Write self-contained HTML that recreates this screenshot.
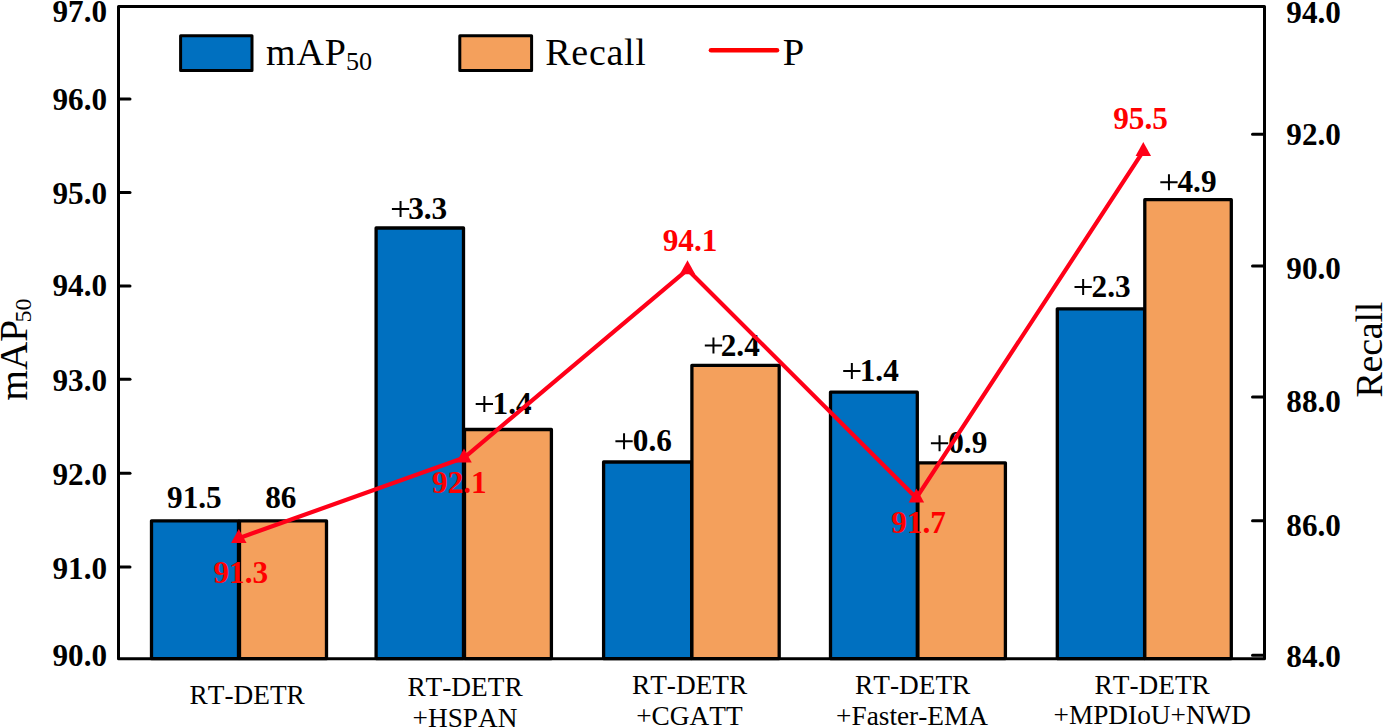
<!DOCTYPE html>
<html><head><meta charset="utf-8"><title>chart</title>
<style>html,body{margin:0;padding:0;background:#fff;}body{width:1383px;height:728px;overflow:hidden;}svg{display:block;}text{font-family:"Liberation Serif",serif;font-kerning:none;}.b{font-weight:bold;}.x{font-size:27.3px;}.p{font-weight:normal;}</style></head><body>
<svg width="1383" height="728" viewBox="0 0 1383 728">
<rect x="0" y="0" width="1383" height="728" fill="#fff"/>
<g stroke="#000" stroke-width="3.3" stroke-linejoin="round">
<rect x="151.5" y="520.8" width="87.0" height="137.9" fill="#0070C0"/>
<rect x="239.5" y="520.8" width="87.0" height="137.9" fill="#F4A05C"/>
<rect x="376.1" y="228.0" width="87.4" height="430.6" fill="#0070C0"/>
<rect x="464.5" y="429.5" width="86.9" height="229.1" fill="#F4A05C"/>
<rect x="603.6" y="462.0" width="88.1" height="196.6" fill="#0070C0"/>
<rect x="691.9" y="365.3" width="87.3" height="293.3" fill="#F4A05C"/>
<rect x="830.5" y="392.2" width="86.8" height="266.4" fill="#0070C0"/>
<rect x="917.9" y="462.8" width="87.5" height="195.8" fill="#F4A05C"/>
<rect x="1057.3" y="308.8" width="87.3" height="349.8" fill="#0070C0"/>
<rect x="1144.8" y="199.7" width="86.5" height="458.9" fill="#F4A05C"/>
</g>
<rect x="118.5" y="6.5" width="1146.0" height="652.15" fill="none" stroke="#000" stroke-width="3" stroke-linejoin="round"/>
<g stroke="#000" stroke-width="3" stroke-linecap="round">
<line x1="118.5" y1="98.9" x2="130" y2="98.9"/>
<line x1="118.5" y1="192.5" x2="130" y2="192.5"/>
<line x1="118.5" y1="285.9" x2="130" y2="285.9"/>
<line x1="118.5" y1="379.3" x2="130" y2="379.3"/>
<line x1="118.5" y1="473.3" x2="130" y2="473.3"/>
<line x1="118.5" y1="566.9" x2="130" y2="566.9"/>
<line x1="1252.5" y1="134.3" x2="1264.5" y2="134.3"/>
<line x1="1252.5" y1="265.9" x2="1264.5" y2="265.9"/>
<line x1="1252.5" y1="397.1" x2="1264.5" y2="397.1"/>
<line x1="1252.5" y1="520.7" x2="1264.5" y2="520.7"/>
<line x1="1252.5" y1="655.3" x2="1264.5" y2="655.3"/>
</g>
<text class="b" transform="translate(107,22) scale(1.012,1)" font-size="30.8" text-anchor="end">97.0</text>
<text class="b" transform="translate(107,110) scale(1.012,1)" font-size="30.8" text-anchor="end">96.0</text>
<text class="b" transform="translate(107,204.3) scale(1.012,1)" font-size="30.8" text-anchor="end">95.0</text>
<text class="b" transform="translate(107,296.3) scale(1.012,1)" font-size="30.8" text-anchor="end">94.0</text>
<text class="b" transform="translate(107,391.2) scale(1.012,1)" font-size="30.8" text-anchor="end">93.0</text>
<text class="b" transform="translate(107,484.5) scale(1.012,1)" font-size="30.8" text-anchor="end">92.0</text>
<text class="b" transform="translate(107,579.3) scale(1.012,1)" font-size="30.8" text-anchor="end">91.0</text>
<text class="b" transform="translate(107,666.2) scale(1.012,1)" font-size="30.8" text-anchor="end">90.0</text>
<text class="b" transform="translate(1286.3,23.4) scale(1.012,1)" font-size="30.8">94.0</text>
<text class="b" transform="translate(1286.3,144.8) scale(1.012,1)" font-size="30.8">92.0</text>
<text class="b" transform="translate(1286.3,278.6) scale(1.012,1)" font-size="30.8">90.0</text>
<text class="b" transform="translate(1286.3,411.5) scale(1.012,1)" font-size="30.8">88.0</text>
<text class="b" transform="translate(1286.3,535.7) scale(1.012,1)" font-size="30.8">86.0</text>
<text class="b" transform="translate(1286.3,666.7) scale(1.012,1)" font-size="30.8">84.0</text>
<text class="b" transform="translate(194.4,507.6) scale(1.015,1)" font-size="30.8" text-anchor="middle" fill="#000">91.5</text>
<text class="b" transform="translate(280.8,507.6) scale(1.015,1)" font-size="30.8" text-anchor="middle" fill="#000">86</text>
<path d="M391.90 209.10H409.20M400.55 201.10V217.10" stroke="#000" stroke-width="2.0" fill="none"/>
<text class="b" transform="translate(447.25,219.1) scale(1.015,1)" font-size="30.8" text-anchor="end" fill="#000">3.3</text>
<path d="M475.70 404.00H493.00M484.35 396.00V412.00" stroke="#000" stroke-width="2.0" fill="none"/>
<text class="b" transform="translate(531.59,414) scale(1.015,1)" font-size="30.8" text-anchor="end" fill="#000">1.4</text>
<path d="M615.40 441.30H632.70M624.05 433.30V449.30" stroke="#000" stroke-width="2.0" fill="none"/>
<text class="b" transform="translate(671.89,451.3) scale(1.015,1)" font-size="30.8" text-anchor="end" fill="#000">0.6</text>
<path d="M704.80 345.50H722.10M713.45 337.50V353.50" stroke="#000" stroke-width="2.0" fill="none"/>
<text class="b" transform="translate(759.79,355.5) scale(1.015,1)" font-size="30.8" text-anchor="end" fill="#000">2.4</text>
<path d="M843.20 370.90H860.50M851.85 362.90V378.90" stroke="#000" stroke-width="2.0" fill="none"/>
<text class="b" transform="translate(898.79,380.9) scale(1.015,1)" font-size="30.8" text-anchor="end" fill="#000">1.4</text>
<path d="M930.90 443.30H948.20M939.55 435.30V451.30" stroke="#000" stroke-width="2.0" fill="none"/>
<text class="b" transform="translate(987.31,453.3) scale(1.015,1)" font-size="30.8" text-anchor="end" fill="#000">0.9</text>
<path d="M1074.50 287.10H1091.80M1083.15 279.10V295.10" stroke="#000" stroke-width="2.0" fill="none"/>
<text class="b" transform="translate(1130.65,297.1) scale(1.015,1)" font-size="30.8" text-anchor="end" fill="#000">2.3</text>
<path d="M1160.30 182.20H1177.60M1168.95 174.20V190.20" stroke="#000" stroke-width="2.0" fill="none"/>
<text class="b" transform="translate(1216.51,192.2) scale(1.015,1)" font-size="30.8" text-anchor="end" fill="#000">4.9</text>
<polyline points="238.8,538.2 464,457.8 687.5,269.6 916.4,497.9 1143.3,151.2" fill="none" stroke="#FF0018" stroke-width="4.2" stroke-linejoin="round" stroke-linecap="round"/>
<polygon points="238.8,528.9 231.05,542.9 246.55,542.9" fill="#FF0018"/>
<polygon points="464,448.5 456.25,462.5 471.75,462.5" fill="#FF0018"/>
<polygon points="687.5,260.3 679.75,274.3 695.25,274.3" fill="#FF0018"/>
<polygon points="916.4,488.6 908.65,502.6 924.15,502.6" fill="#FF0018"/>
<polygon points="1143.3,141.9 1135.55,155.9 1151.05,155.9" fill="#FF0018"/>
<text class="b" transform="translate(240.8,582.8) scale(1.015,1)" font-size="30.8" text-anchor="middle" fill="#FF0000">91.3</text>
<text class="b" transform="translate(459.4,493.0) scale(1.015,1)" font-size="30.8" text-anchor="middle" fill="#FF0000">92.1</text>
<text class="b" transform="translate(690,251.3) scale(1.015,1)" font-size="30.8" text-anchor="middle" fill="#FF0000">94.1</text>
<text class="b" transform="translate(918.6,532.5) scale(1.015,1)" font-size="30.8" text-anchor="middle" fill="#FF0000">91.7</text>
<text class="b" transform="translate(1140.5,129.4) scale(1.015,1)" font-size="30.8" text-anchor="middle" fill="#FF0000">95.5</text>
<rect x="180.6" y="35.8" width="71.4" height="34.8" fill="#0070C0" stroke="#000" stroke-width="3" stroke-linejoin="round"/>
<text x="266" y="64.6" font-size="38"><tspan letter-spacing="0.9">mAP</tspan><tspan font-size="26.2" dy="5.6" dx="-0.9">50</tspan></text>
<rect x="459.8" y="35.8" width="71.8" height="34.8" fill="#F4A05C" stroke="#000" stroke-width="3" stroke-linejoin="round"/>
<text x="545.3" y="65" font-size="38" letter-spacing="0.7">Recall</text>
<line x1="711" y1="50.2" x2="777" y2="50.2" stroke="#FF0000" stroke-width="4.6" stroke-linecap="round"/>
<text x="782.8" y="65" font-size="38.5">P</text>
<text transform="translate(26.5,400.6) rotate(-90)" font-size="39.2">mAP<tspan font-size="24" dy="4.6" dx="-2.4">50</tspan></text>
<text transform="translate(1382,397.5) rotate(-90)" font-size="38" textLength="95.8" lengthAdjust="spacing">Recall</text>
<text class="x" x="247.2" y="703.7" text-anchor="middle">RT-DETR</text>
<text class="x" x="465" y="696.2" text-anchor="middle">RT-DETR</text>
<text class="x" x="465" y="726.7" text-anchor="middle">+HSPAN</text>
<text class="x" x="689.6" y="693.7" text-anchor="middle">RT-DETR</text>
<text class="x" x="689.4" y="724.6" text-anchor="middle">+CGATT</text>
<text class="x" x="912.7" y="693.7" text-anchor="middle">RT-DETR</text>
<text class="x" x="912" y="724.6" text-anchor="middle">+Faster-EMA</text>
<text class="x" x="1152.2" y="693.6" text-anchor="middle">RT-DETR</text>
<text class="x" x="1152.3" y="724.4" text-anchor="middle">+MPDIoU+NWD</text>
</svg></body></html>
